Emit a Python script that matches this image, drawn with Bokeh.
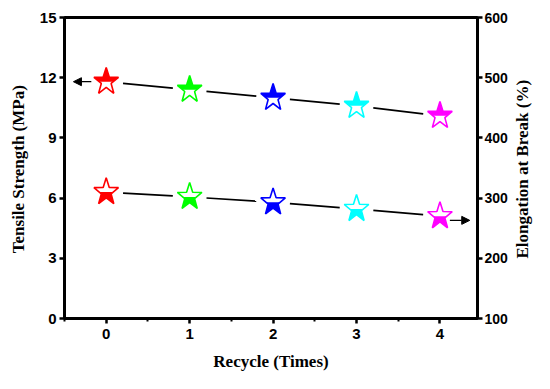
import numpy as np
from bokeh.plotting import figure
from bokeh.layouts import row
from bokeh.core.properties import value
from bokeh.models import Range1d, LinearAxis, FixedTicker, Arrow, NormalHead
from bokeh.embed import file_html
from bokeh.resources import INLINE

# ---- data ----
cycles = [0, 1, 2, 3, 4]
tensile = [11.8, 11.4, 11.0, 10.6, 10.1]      # MPa (left axis)
elongation = [310, 302, 293, 282, 270]        # % (right axis)
colors = ["#FF0000", "#00FF00", "#0000FF", "#00FFFF", "#FF00FF"]
x_ticks = [0, 1, 2, 3, 4]
x_minor = [-0.5, 0.5, 1.5, 2.5, 3.5]
ts_ticks = [0, 3, 6, 9, 12, 15]
eb_ticks = [100, 200, 300, 400, 500, 600]
x_title = "Recycle (Times)"
left_title = "Tensile Strength (MPa)"
right_title = "Elongation at Break (%)"

XR = (-0.5, 4.45)
TR = (0, 15)
ER = (100, 600)

H = 373
SL, SR = 36, 24            # side strips holding the vertical titles
BL, BR, BT, BB = 27, 31, 17, 50
FW = 416
W = BL + FW + BR
FH = H - BT - BB
sx = FW / (XR[1] - XR[0])
sy_t = FH / (TR[1] - TR[0])
sy_e = FH / (ER[1] - ER[0])

p = figure(width=W, height=H, x_range=Range1d(*XR), y_range=Range1d(*TR),
           output_backend="svg", toolbar_location=None,
           min_border_left=BL, min_border_right=BR, min_border_top=BT, min_border_bottom=BB)
p.extra_y_ranges = {"e": Range1d(*ER)}
p.grid.visible = False
p.outline_line_color = "black"
p.outline_line_width = 3


def style_axis(ax):
    ax.axis_line_width = 3
    ax.major_tick_line_width = 2.5
    ax.minor_tick_line_width = 2
    ax.major_tick_out = 5
    ax.major_tick_in = 0
    ax.minor_tick_out = 3
    ax.minor_tick_in = 0
    ax.major_label_text_font = "Liberation Sans"
    ax.major_label_text_font_style = "bold"
    ax.major_label_text_font_size = "15px"
    ax.major_label_text_color = "black"
    ax.axis_label_text_font = "Liberation Serif"
    ax.axis_label_text_font_style = "bold"
    ax.axis_label_text_font_size = "17px"
    ax.axis_label_text_color = "black"


p.xaxis.ticker = FixedTicker(ticks=x_ticks, minor_ticks=x_minor)
p.xaxis.axis_label = x_title
style_axis(p.xaxis[0])
p.xaxis.major_label_standoff = 5
p.xaxis.axis_label_standoff = 10

p.yaxis.ticker = FixedTicker(ticks=ts_ticks, minor_ticks=[])
style_axis(p.yaxis[0])
p.yaxis.major_label_standoff = 3

ry = LinearAxis(y_range_name="e", ticker=FixedTicker(ticks=eb_ticks, minor_ticks=[]))
style_axis(ry)
ry.major_label_text_font_size = "14px"
ry.major_label_standoff = 2
p.add_layout(ry, "right")


def star_shape(R=13, ratio=0.40, yscale=1.12):
    k = np.arange(10)
    ang = np.deg2rad(90 + 36 * k)
    rad = np.where(k % 2 == 0, R, R * ratio)
    return rad * np.cos(ang), rad * np.sin(ang) * yscale


def clip_half(px, py, upper):
    inside = (lambda v: v >= 0) if upper else (lambda v: v <= 0)
    out = []
    n = len(px)
    for i in range(n):
        x1, y1 = px[i - 1], py[i - 1]
        x2, y2 = px[i], py[i]
        in1, in2 = inside(y1), inside(y2)
        if in2:
            if not in1:
                t = y1 / (y1 - y2)
                out.append((x1 + t * (x2 - x1), 0.0))
            out.append((x2, y2))
        elif in1:
            t = y1 / (y1 - y2)
            out.append((x1 + t * (x2 - x1), 0.0))
    return np.array([o[0] for o in out]), np.array([o[1] for o in out])


spx, spy = star_shape()


def draw_series(xv, yv, sy, upper_fill, range_name=None):
    kw = {} if range_name is None else {"y_range_name": range_name}
    full_x = [x + spx / sx for x in xv]
    full_y = [y + spy / sy for y in yv]
    hx, hy = clip_half(spx, spy, upper_fill)
    half_x = [x + hx / sx for x in xv]
    half_y = [y + hy / sy for y in yv]
    # connecting line with gaps around markers
    gap = 17
    x0s, y0s, x1s, y1s = [], [], [], []
    for i in range(len(xv) - 1):
        dxp = (xv[i + 1] - xv[i]) * sx
        dyp = (yv[i + 1] - yv[i]) * sy
        L = np.hypot(dxp, dyp)
        ux, uy = dxp / L, dyp / L
        x0s.append(xv[i] + ux * gap / sx)
        y0s.append(yv[i] + uy * gap / sy)
        x1s.append(xv[i + 1] - ux * gap / sx)
        y1s.append(yv[i + 1] - uy * gap / sy)
    p.segment(x0s, y0s, x1s, y1s, line_color="black", line_width=1.7, **kw)
    p.patches(full_x, full_y, fill_color="white", line_color=None, **kw)
    p.patches(half_x, half_y, fill_color=colors, line_color=None, **kw)
    p.patches(full_x, full_y, fill_color=None, line_color=colors, line_width=1.6, **kw)


draw_series(cycles, tensile, sy_t, True)
draw_series(cycles, elongation, sy_e, False, "e")

# arrows pointing to each series' axis
p.add_layout(Arrow(end=NormalHead(size=8, fill_color="black", line_color="black"),
                   x_start=cycles[0] - 15 / sx, y_start=tensile[0],
                   x_end=XR[0] + 9 / sx, y_end=tensile[0],
                   line_color="black", line_width=1.3))
p.add_layout(Arrow(end=NormalHead(size=8, fill_color="black", line_color="black"),
                   x_start=cycles[-1] + 10 / sx, y_start=elongation[-1] - 7,
                   x_end=cycles[-1] + 30 / sx, y_end=elongation[-1] - 7,
                   line_color="black", line_width=1.3, y_range_name="e"))


# side strips carrying the vertical axis titles (read bottom-to-top)
def title_strip(width, text, center_y):
    s = figure(width=width, height=H, x_range=Range1d(0, width), y_range=Range1d(0, H),
               x_axis_type=None, y_axis_type=None, output_backend="svg",
               toolbar_location=None, min_border=0)
    s.outline_line_color = None
    s.grid.visible = False
    s.text(x=[width / 2], y=[H - center_y], text=[text], angle=np.pi / 2,
           text_align="center", text_baseline="middle",
           text_font=value("Liberation Serif"), text_font_style="bold",
           text_font_size="17px", text_color="black")
    return s


left_strip = title_strip(SL, left_title, 188)
right_strip = title_strip(SR, right_title, 188)

layout = row(left_strip, p, right_strip)
open("out.html", "w").write(file_html(layout, INLINE))
